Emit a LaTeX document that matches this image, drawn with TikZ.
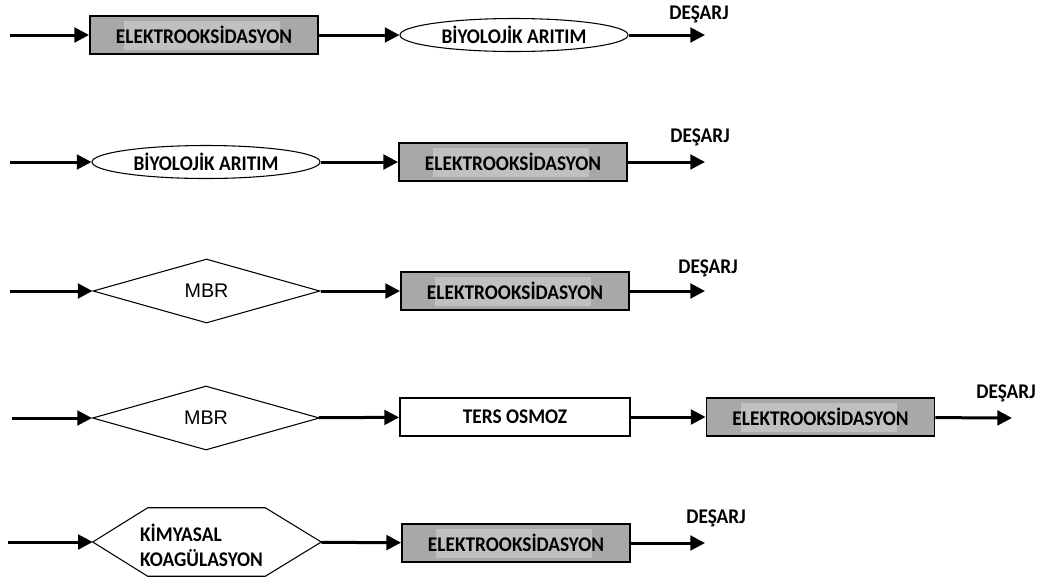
\documentclass[tikz,border=0pt]{standalone}
\usepackage{fontspec}
\usepackage{graphicx}
\setmainfont{Carlito}
\newfontfamily\arialfont{Liberation Sans}
\usetikzlibrary{arrows.meta,shapes.geometric}
\definecolor{boxgray}{RGB}{168,168,168}
\definecolor{innergray}{RGB}{192,192,192}
\newcommand{\tall}[1]{\scalebox{1}[1.08]{#1}}
\begin{document}
\begin{tikzpicture}[x=0.75pt,y=-0.75pt,
  lbl/.style={font=\bfseries\fontsize{14.5}{18.75}\selectfont, inner sep=0pt},
  gbox/.style={lbl, draw, line width=1.4pt, fill=boxgray, minimum width=171pt, minimum height=28.5pt,
    path picture={\fill[innergray] ([shift={(-80,-14)}]path picture bounding box.center) rectangle ([shift={(76,15)}]path picture bounding box.center);}},
  wbox/.style={lbl, draw, line width=1.4pt, fill=white, minimum width=172.5pt, minimum height=28.5pt},
  ellip/.style={lbl, draw, ellipse, line width=0.8pt, minimum width=171pt, minimum height=24.75pt},
  dmd/.style={draw, diamond, line width=0.8pt, inner sep=0pt, minimum width=170.25pt, minimum height=48pt,
    font=\arialfont\fontsize{14.8}{16}\selectfont},
  hexnode/.style={inner sep=0pt, minimum width=171pt, minimum height=51pt},
  hexline/.style={line width=0.8pt},
  flow/.style={line width=2.25pt, -{Triangle[length=11pt,width=11pt]}},
]
\useasboundingbox (0,0) rectangle (1041,583);

% Row 1
\coordinate (s1) at (10,35);
\node[gbox] (e1) at (204,35) {\tall{ELEKTROOKSİDASYON}};
\node[ellip] (b1) at (514,35) {\tall{BİYOLOJİK ARITIM}};
\coordinate (d1) at (705,35);
\node[lbl] (t1) at (699,14.5) {\tall{DEŞARJ}};
\draw[flow] (s1) -- (e1);
\draw[flow] (e1) -- (b1);
\draw[flow] (b1) -- (d1);

% Row 2
\coordinate (s2) at (10,162);
\node[ellip] (b2) at (206,162) {\tall{BİYOLOJİK ARITIM}};
\node[gbox] (e2) at (513,162) {\tall{ELEKTROOKSİDASYON}};
\coordinate (d2) at (705,162);
\node[lbl] (t2) at (700,137) {\tall{DEŞARJ}};
\draw[flow] (s2) -- (b2);
\draw[flow] (b2) -- (e2);
\draw[flow] (e2) -- (d2);

% Row 3
\coordinate (s3) at (10,291);
\node[dmd] (m3) at (206.5,291) {MBR};
\node[gbox] (e3) at (515,291) {\tall{ELEKTROOKSİDASYON}};
\coordinate (d3) at (705,291);
\node[lbl] (t3) at (708,268) {\tall{DEŞARJ}};
\draw[flow] (s3) -- (m3);
\draw[flow] (m3) -- (e3);
\draw[flow] (e3) -- (d3);

% Row 4
\coordinate (s4) at (12,418);
\node[dmd] (m4) at (206,418) {MBR};
\node[wbox] (r4) at (515,417) {\tall{TERS OSMOZ}};
\node[gbox] (e4) at (820.5,417) {\tall{ELEKTROOKSİDASYON}};
\coordinate (d4) at (1012,418);
\node[lbl] (t4) at (1006,393) {\tall{DEŞARJ}};
\draw[flow] (s4) -- (m4);
\draw[flow] (m4) -- (r4);
\draw[flow] (r4) -- (e4);
\draw[flow] (e4) -- (d4);

% Row 5
\coordinate (s5) at (8,542);
\node[hexnode] (k5) at (207,542) {};
\draw[hexline] (k5.west) -- ([xshift=41.25pt]k5.north west) -- ([xshift=-42pt]k5.north east)
  -- (k5.east) -- ([xshift=-42pt]k5.south east) -- ([xshift=41.25pt]k5.south west) -- cycle;
\node[lbl, align=left] (k5t) at (201.5,545) {\tall{KİMYASAL}\\\tall{KOAGÜLASYON}};
\node[gbox] (e5) at (516,543) {\tall{ELEKTROOKSİDASYON}};
\coordinate (d5) at (705,543);
\node[lbl] (t5) at (716,518) {\tall{DEŞARJ}};
\draw[flow] (s5) -- (k5);
\draw[flow] (k5) -- (e5);
\draw[flow] (e5) -- (d5);
\end{tikzpicture}
\end{document}
